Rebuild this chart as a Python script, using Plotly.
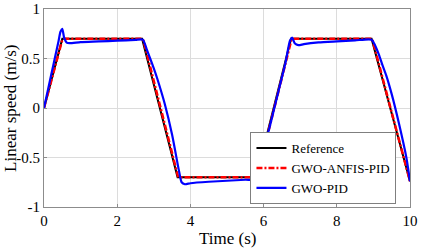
import plotly.graph_objects as go

# Reference trajectory
t_ref = [0, 0.5, 2.68, 3.65, 5.8, 6.75, 8.95, 10]
v_ref = [0, 0.7, 0.7, -0.7, -0.7, 0.7, 0.7, -0.74]

# GWO-ANFIS-PID
t_anfis = [0, 0.5, 0.55, 2.68, 2.72, 3.66, 3.7, 5.8, 5.83, 6.76, 6.8, 8.95, 8.98, 10]
v_anfis = [0, 0.69, 0.7, 0.7, 0.68, -0.69, -0.7, -0.7, -0.68, 0.69, 0.7, 0.7, 0.68, -0.74]

# GWO-PID
t_pid = [0, 0.1, 0.2, 0.3, 0.4, 0.45, 0.5, 0.55, 0.62, 0.7, 1.0, 1.5, 2.0, 2.5, 2.7,
         2.8, 2.9, 3.0, 3.1, 3.3, 3.5, 3.68, 3.76, 3.85, 4.0, 4.5, 5.0, 5.5, 5.8,
         5.9, 6.0, 6.2, 6.4, 6.6, 6.72, 6.78, 6.85, 6.95, 7.1, 7.5, 8.0, 8.5, 8.95,
         9.05, 9.15, 9.25, 9.35, 9.5, 9.7, 9.9, 10]
v_pid = [0, 0.17, 0.34, 0.51, 0.68, 0.77, 0.80, 0.71, 0.66, 0.655, 0.665, 0.672, 0.68, 0.688, 0.69,
         0.6, 0.5, 0.4, 0.29, 0.04, -0.27, -0.62, -0.75, -0.77, -0.76, -0.745, -0.735, -0.725, -0.72,
         -0.6, -0.43, -0.14, 0.16, 0.46, 0.68, 0.71, 0.655, 0.635, 0.645, 0.662, 0.673, 0.683, 0.69,
         0.63, 0.54, 0.43, 0.33, 0.14, -0.16, -0.5, -0.74]

x_ticks = [0, 2, 4, 6, 8, 10]
y_ticks = [-1, -0.5, 0, 0.5, 1]
y_tick_labels = ["-1", "-0.5", "0", "0.5", "1"]

font_family = "Liberation Serif, Times New Roman, serif"

fig = go.Figure()
fig.add_trace(go.Scatter(x=t_ref, y=v_ref, mode="lines", name="Reference",
                         line=dict(color="black", width=2)))
fig.add_trace(go.Scatter(x=t_anfis, y=v_anfis, mode="lines", name="GWO-ANFIS-PID",
                         line=dict(color="red", width=2.5, dash="6px,2px,2px,2px")))
fig.add_trace(go.Scatter(x=t_pid, y=v_pid, mode="lines", name="GWO-PID",
                         line=dict(color="blue", width=2.2, shape="spline", smoothing=0.6)))

axis_common = dict(showgrid=True, gridcolor="#dcdcdc", gridwidth=1, zeroline=False,
                   showline=True, linecolor="#8c8c8c", linewidth=1, mirror=True,
                   ticks="inside", ticklen=3, tickcolor="#8c8c8c", automargin=False,
                   tickfont=dict(family=font_family, size=15, color="black"))

fig.update_layout(
    width=421, height=250,
    margin=dict(l=44, r=11, t=9, b=43),
    paper_bgcolor="white", plot_bgcolor="white",
    font=dict(family=font_family, size=15, color="black"),
    xaxis=dict(range=[0, 10], tickvals=x_ticks, **axis_common),
    yaxis=dict(range=[-1, 1], tickvals=y_ticks, ticktext=y_tick_labels, **axis_common),
    legend=dict(x=0.963, y=0.015, xanchor="right", yanchor="bottom",
                bgcolor="white", bordercolor="#7f7f7f", borderwidth=1,
                font=dict(family=font_family, size=13), tracegroupgap=0,
                itemwidth=30),
    showlegend=True,
    annotations=[
        dict(text="Time (s)", xref="paper", yref="paper", x=0.5, y=-0.157,
             xanchor="center", yanchor="middle", showarrow=False,
             font=dict(family=font_family, size=17)),
        dict(text="Linear speed (m/s)", xref="paper", yref="paper", x=-0.093, y=0.5,
             xanchor="center", yanchor="middle", showarrow=False, textangle=-90,
             font=dict(family=font_family, size=17)),
    ],
)

fig.write_html("out.html", config={"displayModeBar": False},
               post_script="document.body.style.margin='0';")
